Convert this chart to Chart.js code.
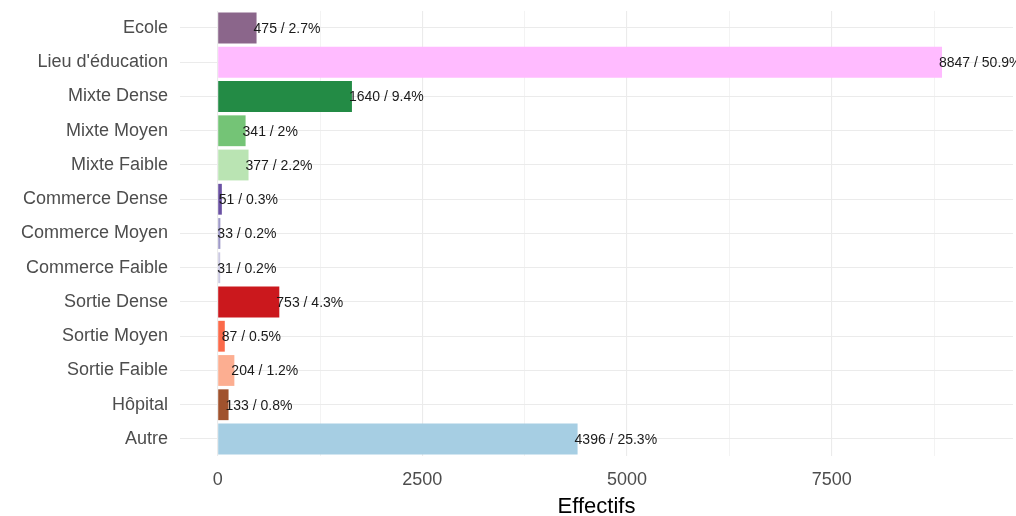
<!DOCTYPE html>
<html>
<head>
<meta charset="utf-8">
<script src="https://cdn.jsdelivr.net/npm/chart.js@4/dist/chart.umd.min.js"></script>
<style>
  html, body { margin: 0; padding: 0; background: #ffffff; }
  #wrap { width: 1016px; height: 516px; }
</style>
</head>
<body>
<div id="wrap"><canvas id="chart" width="1016" height="516"></canvas></div>
<script>
// values (top to bottom)
var categories = ['Ecole', "Lieu d'éducation", 'Mixte Dense', 'Mixte Moyen', 'Mixte Faible',
  'Commerce Dense', 'Commerce Moyen', 'Commerce Faible', 'Sortie Dense', 'Sortie Moyen',
  'Sortie Faible', 'Hôpital', 'Autre'];
var effectifs = [475, 8847, 1640, 341, 377, 51, 33, 31, 753, 87, 204, 133, 4396];
var percents = [2.7, 50.9, 9.4, 2, 2.2, 0.3, 0.2, 0.2, 4.3, 0.5, 1.2, 0.8, 25.3];
var barColors = ['#8B668B', '#FFBBFF', '#238B45', '#74C476', '#BAE4B3',
  '#6A51A3', '#9E9AC8', '#CBC9E2', '#CB181D', '#FB6A4A',
  '#FCAE91', '#A0522D', '#A6CEE3'];
var xTicks = [0, 2500, 5000, 7500];                 // labelled (major) ticks
var xMinorTicks = [1250, 3750, 6250, 8750];         // minor grid only

var FONT = "'Liberation Sans', Arial, Helvetica, sans-serif";
var GRID = '#EBEBEB';

// "n / pct%" text just past the end of each bar
var barLabels = {
  id: 'barLabels',
  afterDatasetsDraw: function (chart) {
    var ctx = chart.ctx;
    var meta = chart.getDatasetMeta(0);
    ctx.save();
    ctx.font = '14px ' + FONT;
    ctx.fillStyle = '#1a1a1a';
    ctx.textAlign = 'left';
    ctx.textBaseline = 'middle';
    meta.data.forEach(function (bar, i) {
      ctx.fillText(effectifs[i] + ' / ' + percents[i] + '%', bar.x - 3, bar.y + 1);
    });
    ctx.restore();
  }
};

new Chart(document.getElementById('chart'), {
  type: 'bar',
  data: {
    labels: categories,
    datasets: [{
      label: 'Effectifs',
      data: effectifs,
      backgroundColor: barColors,
      borderWidth: 0,
      categoryPercentage: 0.9,
      barPercentage: 1.0
    }]
  },
  options: {
    indexAxis: 'y',
    responsive: false,
    animation: false,
    devicePixelRatio: 1,
    layout: { padding: { top: 10.9, right: 3, bottom: 0, left: 0 } },
    plugins: {
      legend: { display: false },
      tooltip: { enabled: false }
    },
    scales: {
      x: {
        type: 'linear',
        min: -460,
        max: 9714,
        border: { display: false },
        afterBuildTicks: function (scale) {
          scale.ticks = xTicks.concat(xMinorTicks)
            .sort(function (a, b) { return a - b; })
            .map(function (v) { return { value: v }; });
        },
        grid: {
          color: GRID,
          drawTicks: false,
          lineWidth: function (c) {
            return xTicks.indexOf(c.tick && c.tick.value) >= 0 ? 1.1 : 0.6;
          }
        },
        ticks: {
          autoSkip: false,
          maxRotation: 0,
          padding: 13,
          color: '#4D4D4D',
          font: { family: FONT, size: 18 },
          callback: function (v) { return xTicks.indexOf(v) >= 0 ? String(v) : ''; }
        },
        title: {
          display: true,
          text: 'Effectifs',
          color: '#000000',
          font: { family: FONT, size: 22 },
          padding: { top: 0, bottom: -4 }
        },
        afterFit: function (scale) {
          scale.height = 59.9;
          scale.paddingLeft = 0;
          scale.paddingRight = 0;
        }
      },
      y: {
        border: { display: false },
        grid: { color: GRID, lineWidth: 1.1, offset: false, drawTicks: false },
        ticks: {
          padding: 12,
          color: '#4D4D4D',
          font: { family: FONT, size: 18 }
        },
        afterFit: function (scale) {
          scale.width = 180;
          scale.paddingTop = 0;
          scale.paddingBottom = 0;
        }
      }
    }
  },
  plugins: [barLabels]
});
</script>
</body>
</html>
